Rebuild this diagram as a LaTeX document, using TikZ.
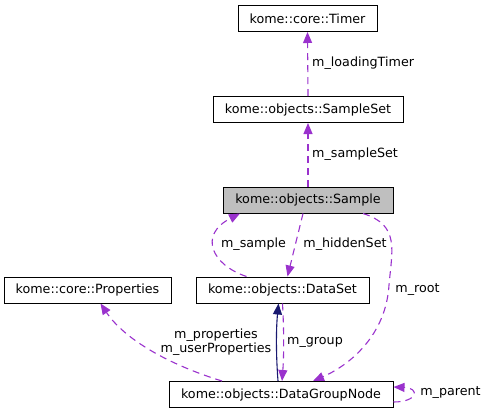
\documentclass[tikz,border=0pt]{standalone}
\usepackage{fontspec}
\setmainfont{DejaVu Sans}
\usetikzlibrary{arrows.meta,calc}
\definecolor{dpurple}{HTML}{9A32CD}
\definecolor{mblue}{HTML}{191970}
\definecolor{sgray}{HTML}{BFBFBF}
\begin{document}
\begin{tikzpicture}[x=1pt,y=-1pt,
  cls/.style={draw=black,line width=1pt,minimum height=26pt,inner sep=0pt,font=\fontsize{12.7}{14.5}\selectfont},
  dep/.style={draw=dpurple,line width=1.1pt,dash pattern=on 7pt off 5pt,-{Triangle[length=11pt,width=9pt,fill=dpurple]}},
  inh/.style={draw=mblue,line width=1.1pt,-{Triangle[length=11pt,width=9pt,fill=mblue]}},
  lbl/.style={font=\fontsize{12.7}{14.5}\selectfont,inner sep=0pt}]
\useasboundingbox (0,0) rectangle (489,413);
\node[cls,minimum width=139pt] (timer) at (307.5,18.5) {kome::core::Timer};
\node[cls,minimum width=190pt] (sset) at (308,109.5) {kome::objects::SampleSet};
\node[cls,minimum width=170pt,fill=sgray] (sample) at (308,200) {kome::objects::Sample};
\node[cls,minimum width=173pt] (dset) at (282.5,290) {kome::objects::DataSet};
\node[cls,minimum width=167pt] (props) at (87.5,290) {kome::core::Properties};
\node[cls,minimum width=224pt] (dgn) at (281,394.5) {kome::objects::DataGroupNode};

\draw[dep] (sset.north) -- (timer.south);
\draw[dep] (sample.north) -- (sset.south);
\draw[dep] ([xshift=-36pt]dset.north) .. controls (212,265) and (198,235) .. ([xshift=-68pt]sample.south);
\draw[dep] ([xshift=-5pt]sample.south) -- ([xshift=5pt]dset.north);
\draw[dep] ([xshift=55pt]sample.south) .. controls (400,225) and (392,250) .. (389,285) .. controls (386,335) and (350,365) .. ([xshift=32pt]dgn.north);
\draw[dep] ([xshift=-59pt]dgn.north) .. controls (170,365) and (125,340) .. ([xshift=13pt]props.south);
\draw[inh] ([xshift=-3pt]dgn.north) .. controls (276,355) and (276,330) .. ([xshift=-4pt]dset.south);
\draw[dep] (dset.south) .. controls (284,330) and (284,355) .. ([xshift=1pt]dgn.north);
\draw[dep] ([yshift=-7.5pt]dgn.east) .. controls (418,402) and (420,388) .. ([yshift=7.5pt]dgn.east);

\node[lbl,anchor=west] (llt) at (312,63) {m\_loadingTimer};
\node[lbl,anchor=west] (lss) at (312,154) {m\_sampleSet};
\node[lbl] (lsm) at (253.5,244) {m\_sample};
\node[lbl] (lhs) at (345,244) {m\_hiddenSet};
\node[lbl] (lrt) at (417.5,290) {m\_root};
\node[lbl,align=center] (lpr) at (216,342) {m\_properties\\m\_userProperties};
\node[lbl] (lgr) at (315,342) {m\_group};
\node[lbl] (lpa) at (450.5,393) {m\_parent};
\end{tikzpicture}
\end{document}
